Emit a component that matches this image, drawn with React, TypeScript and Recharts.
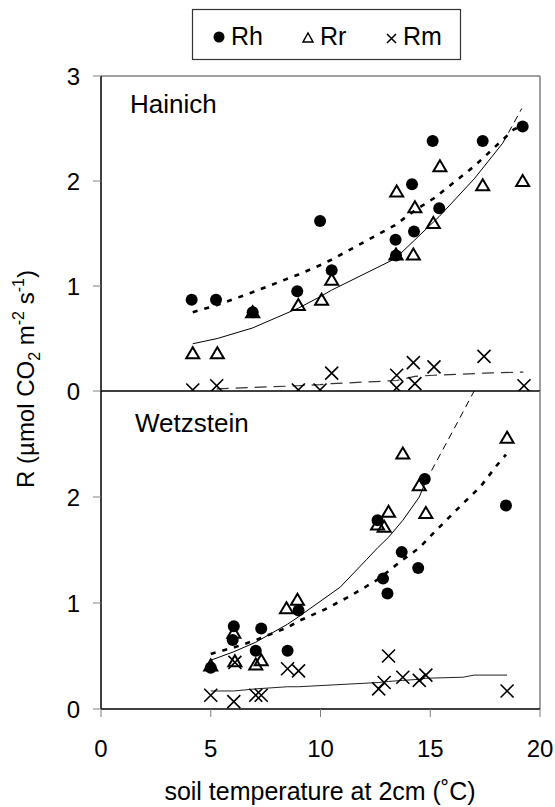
import { ComposedChart, Line, ReferenceLine, Scatter, XAxis, YAxis } from 'recharts';

const FONT = '"Liberation Sans", Arial, sans-serif';
const TICK_GREY = '#808080';

// ---- Hainich (top panel) ----
const hRhT = [4.13, 5.24, 6.91, 8.94, 9.98, 10.51, 13.42, 13.44, 14.17, 14.26, 15.11, 15.41, 17.39, 19.21];
const hRh = [0.87, 0.87, 0.75, 0.95, 1.62, 1.15, 1.44, 1.29, 1.97, 1.52, 2.38, 1.74, 2.38, 2.52];
const hRrT = [4.18, 5.3, 6.91, 8.99, 10.05, 10.51, 13.44, 13.47, 14.23, 14.3, 15.14, 15.44, 17.39, 19.21];
const hRr = [0.36, 0.36, 0.75, 0.82, 0.87, 1.06, 1.3, 1.9, 1.3, 1.75, 1.6, 2.14, 1.96, 2.0];
const hRmT = [4.18, 5.27, 8.99, 9.98, 10.51, 13.47, 13.47, 14.23, 14.3, 15.17, 17.45, 19.27];
const hRm = [0.01, 0.05, 0.01, 0.01, 0.17, 0.15, 0.03, 0.27, 0.07, 0.23, 0.33, 0.05];

// fitted curves
const hRhFitT = [4.18, 5.3, 6.9, 9.0, 10.0, 10.5, 13.4, 14.3, 15.2, 17.0, 18.8, 19.2];
const hRhFit = [0.75, 0.82, 0.94, 1.11, 1.2, 1.25, 1.58, 1.72, 1.84, 2.14, 2.49, 2.53];
const hRrFitT = [4.18, 5.3, 6.9, 9.0, 10.0, 10.5, 13.4, 14.3, 15.2, 15.4, 17.0, 18.3];
const hRrFit = [0.45, 0.5, 0.6, 0.79, 0.9, 0.96, 1.26, 1.44, 1.62, 1.66, 2.02, 2.36];
const hRrExtT = [18.3, 19.17];
const hRrExt = [2.36, 2.69];
const hRmFitT = [5.27, 8.99, 9.98, 10.51, 13.47, 14.3, 15.17, 17.45, 19.24];
const hRmFit = [0.02, 0.05, 0.06, 0.07, 0.1, 0.14, 0.15, 0.17, 0.18];

// ---- Wetzstein (bottom panel) ----
const wRhT = [5.0, 6.05, 6.0, 7.05, 7.3, 8.5, 9.0, 12.6, 12.85, 13.05, 13.7, 14.45, 14.75, 18.45];
const wRh = [0.39, 0.78, 0.65, 0.55, 0.76, 0.55, 0.93, 1.78, 1.23, 1.09, 1.48, 1.33, 2.17, 1.92];
const wRrT = [5.0, 6.05, 6.1, 7.05, 7.3, 8.45, 8.95, 12.6, 12.9, 13.1, 13.75, 14.5, 14.8, 18.5];
const wRr = [0.41, 0.72, 0.45, 0.42, 0.46, 0.95, 1.03, 1.74, 1.72, 1.86, 2.41, 2.11, 1.85, 2.56];
const wRmT = [5.0, 6.05, 6.1, 7.05, 7.3, 8.5, 9.0, 12.65, 12.9, 13.1, 13.75, 14.5, 14.8, 18.5];
const wRm = [0.13, 0.07, 0.44, 0.13, 0.13, 0.38, 0.36, 0.19, 0.25, 0.5, 0.3, 0.27, 0.32, 0.17];

const wRhFitT = [5.0, 6.05, 7.05, 8.5, 9.0, 10.2, 11.3, 12.6, 13.7, 14.5, 15.1, 16.4, 17.3, 18.0, 18.45];
const wRhFit = [0.52, 0.58, 0.65, 0.77, 0.83, 0.94, 1.06, 1.22, 1.4, 1.52, 1.65, 1.92, 2.1, 2.29, 2.4];
const wRrFitT = [5.0, 6.05, 7.05, 8.5, 9.0, 10.9, 12.1, 12.6, 13.1, 13.75, 14.5, 14.8];
const wRrFit = [0.46, 0.54, 0.63, 0.8, 0.87, 1.15, 1.41, 1.52, 1.62, 1.78, 2.0, 2.15];
const wRrExtT = [14.8, 16.05, 17.0];
const wRrExt = [2.15, 2.63, 3.0];
const wRmFitT = [5.0, 6.05, 7.05, 8.5, 9.0, 12.65, 13.1, 13.75, 14.5, 14.8, 16.5, 17.0, 18.5];
const wRmFit = [0.17, 0.17, 0.19, 0.21, 0.21, 0.25, 0.26, 0.27, 0.28, 0.29, 0.3, 0.32, 0.32];

const X_TICKS = [0, 5, 10, 15, 20];
const TOP_Y_TICKS = [0, 1, 2, 3];
const BOTTOM_Y_TICKS = [0, 1, 2];

const pts = (xs: number[], ys: number[]) => xs.map((x, i) => ({ x, y: ys[i] }));

const Dot = (p: any) => <circle cx={p.cx} cy={p.cy} r={6} fill="#000" />;
const Tri = (p: any) => (
  <polygon
    points={`${p.cx},${p.cy - 6} ${p.cx - 6.5},${p.cy + 5} ${p.cx + 6.5},${p.cy + 5}`}
    fill="none"
    stroke="#000"
    strokeWidth={2}
  />
);
const Cross = (p: any) => (
  <path
    d={`M${p.cx - 6.5},${p.cy - 6.5}L${p.cx + 6.5},${p.cy + 6.5}M${p.cx - 6.5},${p.cy + 6.5}L${p.cx + 6.5},${p.cy - 6.5}`}
    stroke="#000"
    strokeWidth={1.6}
  />
);

const tickStyle = { fontSize: 24, fill: '#000', fontFamily: FONT };

function fitLine(data: { x: number; y: number }[], kind: 'rh' | 'rr' | 'rrExt' | 'rmDash' | 'rm', key: string) {
  const style: Record<string, { w: number; dash?: string; c: string }> = {
    rh: { w: 2.6, dash: '5 7', c: '#000' },
    rr: { w: 1, c: '#000' },
    rrExt: { w: 1, dash: '7 5', c: '#000' },
    rmDash: { w: 1.2, dash: '12 7', c: '#333' },
    rm: { w: 1, c: '#222' },
  };
  const s = style[kind];
  return (
    <Line
      key={key}
      data={data}
      dataKey="y"
      type="linear"
      stroke={s.c}
      strokeWidth={s.w}
      strokeDasharray={s.dash}
      dot={false}
      activeDot={false}
      isAnimationActive={false}
    />
  );
}

export default function App() {
  return (
    <div style={{ position: 'absolute', left: 0, top: 0, width: 555, height: 807, background: '#fff' }}>
      {/* Hainich */}
      <div style={{ position: 'absolute', left: 0, top: 0 }}>
        <ComposedChart width={555} height={420} margin={{ top: 76, right: 15, bottom: 29, left: 0 }}>
          <XAxis type="number" dataKey="x" domain={[0, 20]} hide allowDataOverflow />
          <YAxis
            type="number"
            dataKey="y"
            domain={[0, 3]}
            ticks={TOP_Y_TICKS}
            interval={0}
            width={101}
            allowDataOverflow
            tick={tickStyle}
            tickSize={8}
            tickMargin={13}
            tickLine={{ stroke: TICK_GREY }}
            axisLine={{ stroke: '#000', strokeWidth: 1.5 }}
          />
          <ReferenceLine y={3} stroke={TICK_GREY} strokeWidth={1.5} />
          <ReferenceLine x={20} stroke={TICK_GREY} strokeWidth={1.5} />
          <ReferenceLine y={0} stroke="#000" strokeWidth={1.5} />
          {fitLine(pts(hRmFitT, hRmFit), 'rmDash', 'hrm')}
          {fitLine(pts(hRrFitT, hRrFit), 'rr', 'hrr')}
          {fitLine(pts(hRrExtT, hRrExt), 'rrExt', 'hrr2')}
          {fitLine(pts(hRhFitT, hRhFit), 'rh', 'hrh')}
          <Scatter data={pts(hRmT, hRm)} shape={Cross} isAnimationActive={false} />
          <Scatter data={pts(hRhT, hRh)} shape={Dot} isAnimationActive={false} />
          <Scatter data={pts(hRrT, hRr)} shape={Tri} isAnimationActive={false} />
        </ComposedChart>
      </div>

      {/* Wetzstein */}
      <div style={{ position: 'absolute', left: 0, top: 380 }}>
        <ComposedChart width={555} height={427} margin={{ top: 11, right: 15, bottom: 38, left: 0 }}>
          <XAxis
            type="number"
            dataKey="x"
            domain={[0, 20]}
            ticks={X_TICKS}
            interval={0}
            height={60}
            allowDataOverflow
            tick={tickStyle}
            tickSize={8}
            tickMargin={23}
            tickLine={{ stroke: TICK_GREY }}
            axisLine={{ stroke: '#000', strokeWidth: 1.5 }}
          />
          <YAxis
            type="number"
            dataKey="y"
            domain={[0, 3]}
            ticks={BOTTOM_Y_TICKS}
            interval={0}
            width={101}
            allowDataOverflow
            tick={tickStyle}
            tickSize={8}
            tickMargin={13}
            tickLine={{ stroke: TICK_GREY }}
            axisLine={{ stroke: '#000', strokeWidth: 1.5 }}
          />
          <ReferenceLine x={20} stroke={TICK_GREY} strokeWidth={1.5} />
          {fitLine(pts(wRmFitT, wRmFit), 'rm', 'wrm')}
          {fitLine(pts(wRrFitT, wRrFit), 'rr', 'wrr')}
          {fitLine(pts(wRrExtT, wRrExt), 'rrExt', 'wrr2')}
          {fitLine(pts(wRhFitT, wRhFit), 'rh', 'wrh')}
          <Scatter data={pts(wRmT, wRm)} shape={Cross} isAnimationActive={false} />
          <Scatter data={pts(wRrT, wRr)} shape={Tri} isAnimationActive={false} />
          <Scatter data={pts(wRhT, wRh)} shape={Dot} isAnimationActive={false} />
        </ComposedChart>
      </div>

      {/* titles, axis labels, legend */}
      <svg
        width={555}
        height={807}
        style={{ position: 'absolute', left: 0, top: 0, pointerEvents: 'none' }}
        fontFamily={FONT}
      >
        <text x={130} y={113} fontSize={26}>Hainich</text>
        <text x={135} y={432} fontSize={26}>Wetzstein</text>
        <text x={320} y={800} fontSize={25} textAnchor="middle">soil temperature at 2cm (˚C)</text>
        <text transform="translate(34,379) rotate(-90)" fontSize={24} textAnchor="middle">
          R (µmol CO<tspan fontSize={16} dy={6}>2</tspan>
          <tspan dy={-6}> m</tspan>
          <tspan fontSize={16} dy={-10}>-2</tspan>
          <tspan dy={10}> s</tspan>
          <tspan fontSize={16} dy={-10}>-1</tspan>
          <tspan dy={10}>)</tspan>
        </text>

        <rect x={192.5} y={9.5} width={268} height={50} fill="#fff" stroke="#333" strokeWidth={1.2} />
        <circle cx={219} cy={37} r={5.5} fill="#000" />
        <text x={231} y={45} fontSize={25}>Rh</text>
        <polygon points="308,33 303,42 313,42" fill="none" stroke="#000" strokeWidth={1.5} />
        <text x={320} y={45} fontSize={25}>Rr</text>
        <path d="M387,34L396,43M387,43L396,34" stroke="#000" strokeWidth={1.5} />
        <text x={403} y={45} fontSize={25}>Rm</text>
      </svg>
    </div>
  );
}
